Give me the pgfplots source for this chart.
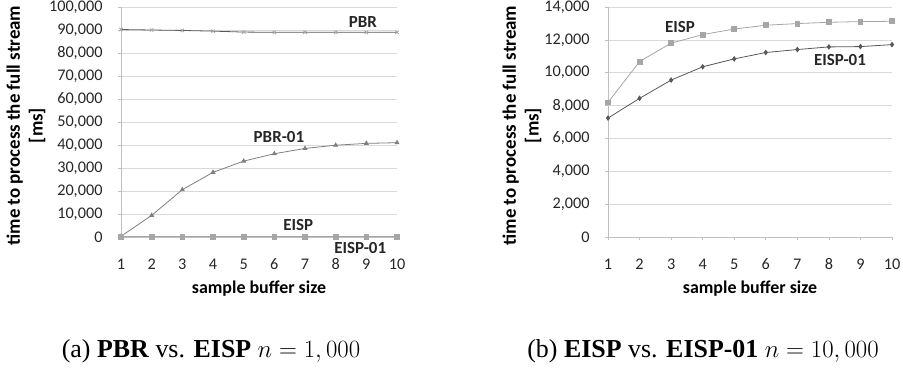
\documentclass[border=0pt]{standalone}
\usepackage{fontspec}
\setmainfont{Liberation Serif}
\newfontfamily\calfont{Carlito}
\usepackage{pgfplots}
\pgfplotsset{compat=1.18}
\definecolor{gridc}{HTML}{D9D9D9}
\definecolor{axc}{HTML}{BFBFBF}
\definecolor{dk}{HTML}{595959}
\definecolor{md}{HTML}{7F7F7F}
\definecolor{lt}{HTML}{A6A6A6}
\tikzset{lbl/.style={font=\calfont\bfseries\fontsize{17}{17}\selectfont, text=black!85}}
\pgfplotsset{
  common/.style={
    scale only axis, height=230bp,
    xmin=1, xmax=10, xtick={1,...,10}, ymin=0,
    ymajorgrids, grid style={draw=gridc, line width=0.6pt},
    axis x line*=bottom, axis y line*=left,
    axis line style={draw=axc, line width=0.6pt, -},
    tick style={draw=axc, line width=0.6pt},
    tick align=outside, major tick length=3bp,
    ticklabel style={font=\calfont\fontsize{16.3}{16.3}\selectfont, text=black!85},
    /pgf/number format/assume math mode=true,
    /pgf/number format/fixed,
    /pgf/number format/precision=0,
    /pgf/number format/1000 sep={,},
    scaled y ticks=false,
    xticklabel style={anchor=center, yshift=-24bp},
    yticklabel style={anchor=east, xshift=-12bp},
    xlabel style={font=\calfont\bfseries\fontsize{18}{18}\selectfont, at={(axis description cs:0.5,0)}, anchor=center, yshift=-52bp},
    ylabel style={font=\calfont\bfseries\fontsize{19}{23}\selectfont, align=center, at={(axis description cs:0,0.5)}, anchor=center},
    xlabel={sample buffer size},
    ylabel={time to process the full stream\\{}[ms]},
    clip=false,
  }
}
\begin{document}
\begin{tikzpicture}[x=1bp,y=1bp]
\useasboundingbox (0,0) rectangle (903,371);
\begin{axis}[common, at={(121bp,134bp)}, anchor=south west, width=276bp,
  ymax=100000, ytick={0,10000,...,100000},
  ylabel style={yshift=95bp, xshift=-3.5bp}]
\addplot[color=dk, line width=0.8pt, mark=x, mark size=2.4pt, mark options={draw=lt}] coordinates {
(1,90200)(2,90000)(3,89800)(4,89500)(5,89100)(6,89000)(7,89000)(8,89000)(9,89000)(10,89000)};
\addplot[color=md, line width=0.8pt, mark=triangle*, mark size=2.2pt] coordinates {
(1,300)(2,9400)(3,20600)(4,28100)(5,33000)(6,36200)(7,38500)(8,39900)(9,40700)(10,41000)};
\addplot[color=dk, line width=0.8pt, mark=+, mark size=2pt] coordinates {
(1,100)(2,100)(3,100)(4,100)(5,100)(6,100)(7,100)(8,100)(9,100)(10,100)};
\addplot[color=lt, line width=0.8pt, mark=square*, mark size=2.4pt] coordinates {
(1,120)(2,120)(3,120)(4,120)(5,120)(6,120)(7,120)(8,120)(9,120)(10,120)};
\node[lbl] at (axis cs:8.89,93600) {PBR};
\node[lbl] at (axis cs:6.15,43500) {PBR-01};
\node[lbl] at (axis cs:6.78,5200) {EISP};
\node[lbl] at (axis cs:8.8,-4800) {EISP-01};
\end{axis}
\begin{axis}[common, at={(608bp,134bp)}, anchor=south west, width=284bp,
  ymax=14000, ytick={0,2000,...,14000},
  ylabel style={yshift=86bp, xshift=-3.5bp}]
\addplot[color=lt, line width=0.8pt, mark=square*, mark size=2.4pt] coordinates {
(1,8190)(2,10680)(3,11800)(4,12320)(5,12660)(6,12890)(7,12990)(8,13070)(9,13110)(10,13130)};
\addplot[color=dk, line width=0.8pt, mark=diamond*, mark size=2.2pt] coordinates {
(1,7240)(2,8440)(3,9550)(4,10360)(5,10840)(6,11230)(7,11410)(8,11570)(9,11590)(10,11710)};
\node[lbl] at (axis cs:3.28,12765) {EISP};
\node[lbl] at (axis cs:8.35,10774) {EISP-01};
\end{axis}
\node[font=\fontsize{26}{26}\selectfont, anchor=base] at (211,14) {(a) \textbf{PBR} vs. \textbf{EISP} $n=1,000$};
\node[font=\fontsize{26}{26}\selectfont, anchor=base] at (703,14) {(b) \textbf{EISP} vs. \textbf{EISP-01} $n=10,000$};
\end{tikzpicture}
\end{document}
